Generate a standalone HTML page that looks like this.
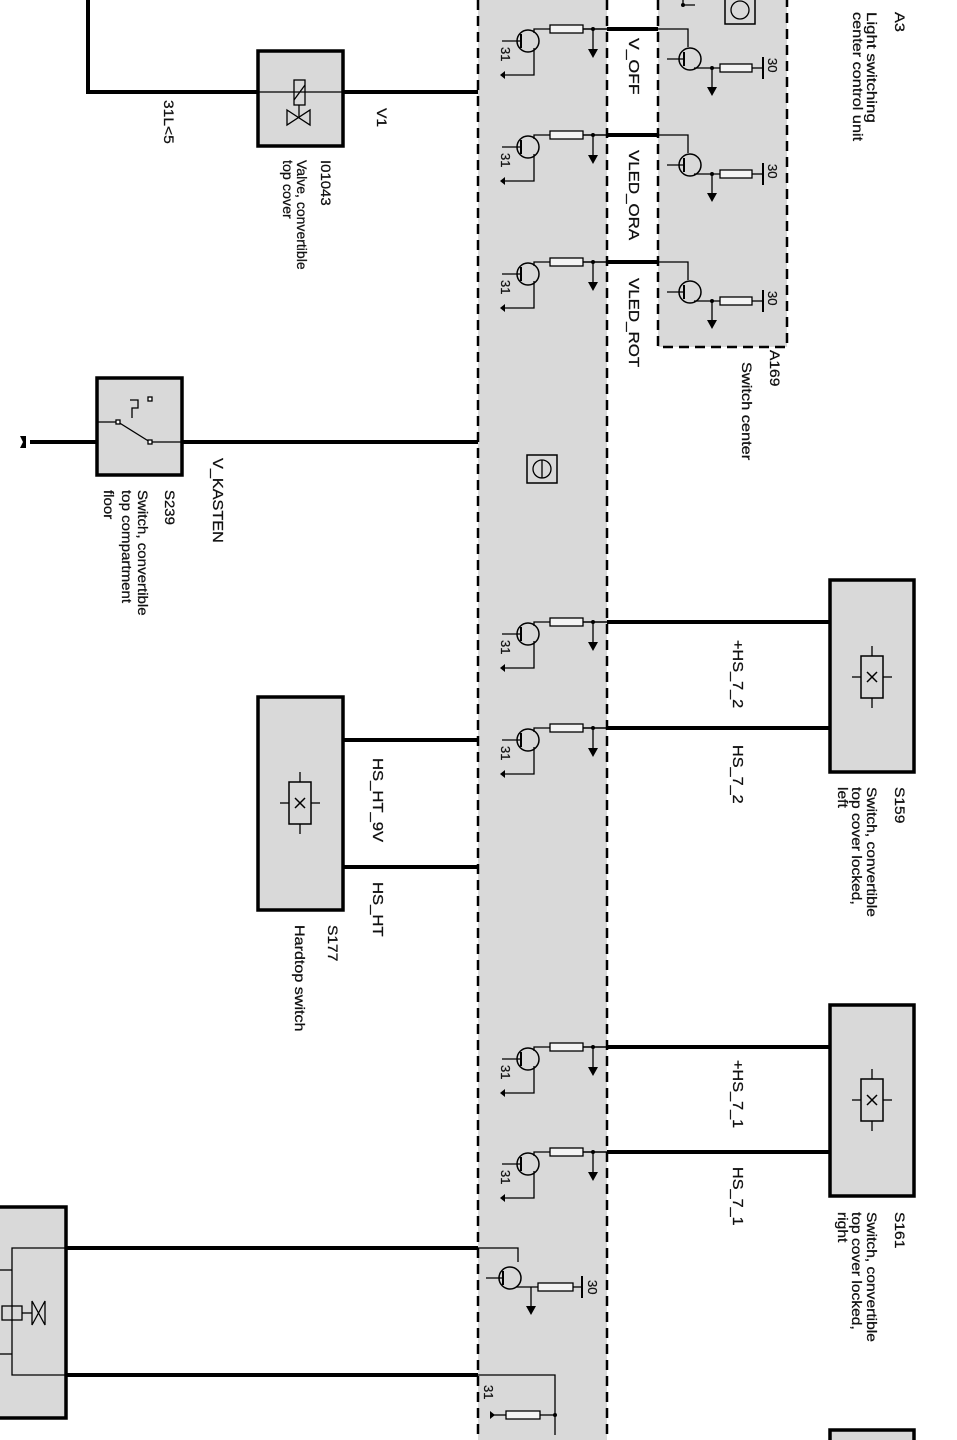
<!DOCTYPE html>
<html><head><meta charset="utf-8"><style>
html,body{margin:0;padding:0;background:#fff;}
svg{display:block;}
text{font-family:"Liberation Sans",sans-serif;font-size:13px;fill:#111;stroke:#111;stroke-width:0.25;}
</style></head><body>
<svg width="957" height="1440" viewBox="0 0 957 1440" xmlns="http://www.w3.org/2000/svg">
<defs>
<g id="st">
<line x1="583" y1="0" x2="607" y2="0" stroke="#000" stroke-width="1.5"/>
<rect x="550" y="-4" width="33" height="8" fill="#f4f4f4" stroke="#000" stroke-width="1.3"/>
<polyline points="550,0 534,0 534,4" fill="none" stroke="#000" stroke-width="1.3"/>
<circle cx="528" cy="12" r="11" fill="none" stroke="#000" stroke-width="1.5"/>
<line x1="521" y1="5" x2="521" y2="19" stroke="#000" stroke-width="2"/>
<line x1="502" y1="12" x2="521" y2="12" stroke="#000" stroke-width="1.3"/>
<polyline points="534,19 534,46 505,46" fill="none" stroke="#000" stroke-width="1.3"/>
<polygon points="505,42 505,50 500,46" fill="#000"/>
<circle cx="593" cy="0" r="2" fill="#000"/>
<line x1="593" y1="0" x2="593" y2="20" stroke="#000" stroke-width="1.3"/>
<polygon points="588,20 598,20 593,29" fill="#000"/>
</g>
<g id="sa">
<polyline points="658,0 688,0 688,18" fill="none" stroke="#000" stroke-width="1.3"/>
<circle cx="690" cy="30" r="11" fill="none" stroke="#000" stroke-width="1.5"/>
<line x1="684" y1="23" x2="684" y2="37" stroke="#000" stroke-width="2"/>
<line x1="667" y1="30" x2="684" y2="30" stroke="#000" stroke-width="1.3"/>
<polyline points="694,39 712,39 720,39" fill="none" stroke="#000" stroke-width="1.3"/>
<rect x="720" y="35" width="32" height="8" fill="#f4f4f4" stroke="#000" stroke-width="1.3"/>
<line x1="752" y1="39" x2="763" y2="39" stroke="#000" stroke-width="1.3"/>
<line x1="763" y1="28" x2="763" y2="50" stroke="#000" stroke-width="2"/>
<circle cx="712" cy="39" r="2" fill="#000"/>
<line x1="712" y1="39" x2="712" y2="58" stroke="#000" stroke-width="1.3"/>
<polygon points="707,58 717,58 712,67" fill="#000"/>
</g>
<g id="sw">
<rect x="-11" y="-21" width="22" height="42" fill="none" stroke="#000" stroke-width="1.5"/>
<line x1="-20" y1="0" x2="-11" y2="0" stroke="#000" stroke-width="1.3"/>
<line x1="11" y1="0" x2="20" y2="0" stroke="#000" stroke-width="1.3"/>
<line x1="0" y1="-31" x2="0" y2="-21" stroke="#000" stroke-width="1.3"/>
<line x1="0" y1="21" x2="0" y2="31" stroke="#000" stroke-width="1.3"/>
<line x1="-5" y1="-5" x2="5" y2="5" stroke="#000" stroke-width="1.5"/>
<line x1="5" y1="-5" x2="-5" y2="5" stroke="#000" stroke-width="1.5"/>
</g>
</defs>

<rect x="478" y="0" width="129" height="1440" fill="#d9d9d9"/>
<line x1="478" y1="0" x2="478" y2="1440" stroke="#000" stroke-width="2.5" stroke-dasharray="10,6"/>
<line x1="607" y1="0" x2="607" y2="1440" stroke="#000" stroke-width="2.5" stroke-dasharray="10,6"/>
<rect x="658" y="0" width="129" height="347" fill="#d9d9d9"/>
<polyline points="658,0 658,347 787,347 787,0" fill="none" stroke="#000" stroke-width="2.5" stroke-dasharray="10,6"/>
<polyline points="683,0 683,5 695,5" fill="none" stroke="#000" stroke-width="1.3"/>
<circle cx="683" cy="5" r="2" fill="#000"/>
<rect x="725" y="-2" width="30" height="26" fill="none" stroke="#000" stroke-width="1.5"/>
<circle cx="740" cy="10" r="9" fill="none" stroke="#000" stroke-width="1.3"/>

<g stroke="#000" stroke-width="4">
<line x1="607" y1="29" x2="658" y2="29"/>
<line x1="607" y1="135" x2="658" y2="135"/>
<line x1="607" y1="262" x2="658" y2="262"/>
<line x1="607" y1="622" x2="830" y2="622"/>
<line x1="607" y1="728" x2="830" y2="728"/>
<line x1="607" y1="1047" x2="830" y2="1047"/>
<line x1="607" y1="1152" x2="830" y2="1152"/>
<polyline points="88,0 88,92 478,92" fill="none"/>
<line x1="30" y1="442" x2="478" y2="442"/>
<line x1="343" y1="740" x2="478" y2="740"/>
<line x1="343" y1="867" x2="478" y2="867"/>
<line x1="66" y1="1248" x2="478" y2="1248"/>
<line x1="66" y1="1375" x2="478" y2="1375"/>
</g>
<polygon points="20,436 26,436 26,448 20,448 23,442" fill="#000"/>

<use href="#st" transform="translate(0,29)"/>
<use href="#st" transform="translate(0,135)"/>
<use href="#st" transform="translate(0,262)"/>
<use href="#st" transform="translate(0,622)"/>
<use href="#st" transform="translate(0,728)"/>
<use href="#st" transform="translate(0,1047)"/>
<use href="#st" transform="translate(0,1152)"/>
<use href="#sa" transform="translate(0,29)"/>
<use href="#sa" transform="translate(0,135)"/>
<use href="#sa" transform="translate(0,262)"/>

<g stroke="#000" stroke-width="1.3" fill="none">
<polyline points="478,1248 518,1248 518,1262"/>
<circle cx="510" cy="1278" r="11" stroke-width="1.5"/>
<line x1="503" y1="1271" x2="503" y2="1285" stroke-width="2"/>
<line x1="486" y1="1278" x2="503" y2="1278"/>
<polyline points="516,1287 538,1287"/>
<rect x="538" y="1283" width="35" height="8" fill="#f4f4f4"/>
<line x1="573" y1="1287" x2="582" y2="1287"/>
<line x1="582" y1="1276" x2="582" y2="1298" stroke-width="2"/>
<line x1="531" y1="1287" x2="531" y2="1306"/>
<polyline points="478,1375 555,1375 555,1435"/>
<rect x="506" y="1411" width="34" height="8" fill="#f4f4f4"/>
<line x1="490" y1="1415" x2="506" y2="1415"/>
<line x1="540" y1="1415" x2="555" y2="1415"/>
</g>
<polygon points="526,1306 536,1306 531,1315" fill="#000"/>
<polygon points="490,1411 490,1419 495,1415" fill="#000"/>
<circle cx="555" cy="1415" r="2" fill="#000"/>

<rect x="527" y="455" width="30" height="28" fill="none" stroke="#000" stroke-width="1.5"/>
<circle cx="542" cy="469" r="9" fill="none" stroke="#000" stroke-width="1.3"/>
<line x1="542" y1="460" x2="542" y2="478" stroke="#000" stroke-width="1.3"/>

<g fill="#d9d9d9" stroke="#000" stroke-width="3.5">
<rect x="258" y="51" width="85" height="95"/>
<rect x="97" y="378" width="85" height="97"/>
<rect x="258" y="697" width="85" height="213"/>
<rect x="830" y="580" width="84" height="192"/>
<rect x="830" y="1005" width="84" height="191"/>
<rect x="-5" y="1207" width="71" height="211"/>
<rect x="830" y="1430" width="84" height="20"/>
</g>
<g stroke="#000" stroke-width="1.3" fill="none">
<line x1="258" y1="92" x2="343" y2="92"/>
<rect x="294" y="80" width="11" height="25"/>
<line x1="294" y1="100" x2="305" y2="85"/>
<line x1="299" y1="105" x2="299" y2="118"/>
<polygon points="287,110 310,125 310,110 287,125"/>
</g>
<g stroke="#000" stroke-width="1.3" fill="none">
<line x1="97" y1="422" x2="118" y2="422"/>
<line x1="150" y1="442" x2="182" y2="442"/>
<line x1="118" y1="422" x2="150" y2="442"/>
<rect x="116" y="420" width="4" height="4" fill="#fff"/>
<rect x="148" y="440" width="4" height="4" fill="#fff"/>
<polyline points="130,400 138,400 138,408 132,408 132,418"/>
<rect x="148" y="397" width="4" height="4" fill="#fff"/>
</g>
<g stroke="#000" stroke-width="1.3" fill="none">
<polyline points="66,1248 12,1248 12,1375 66,1375"/>
<rect x="2" y="1306" width="20" height="14"/>
<line x1="22" y1="1313" x2="32" y2="1313"/>
<polygon points="32,1301 45,1325 45,1301 32,1325"/>
<line x1="0" y1="1270" x2="12" y2="1270"/>
<line x1="0" y1="1354" x2="12" y2="1354"/>
</g>
<use href="#sw" transform="translate(872,677)"/>
<use href="#sw" transform="translate(872,1100)"/>
<use href="#sw" transform="translate(300,803)"/>

<g>
<text transform="translate(895,12) rotate(90) scale(1.25,1.05)">A3</text>
<text transform="translate(867,12) rotate(90) scale(1.3,1.05)">Light switching</text>
<text transform="translate(853,12) rotate(90) scale(1.25,1.05)">center control unit</text>
<text transform="translate(629,38) rotate(90) scale(1.35,1.1)">V_OFF</text>
<text transform="translate(629,150) rotate(90) scale(1.3,1.1)">VLED_ORA</text>
<text transform="translate(629,278) rotate(90) scale(1.3,1.1)">VLED_ROT</text>
<text transform="translate(768,58) rotate(90)">30</text>
<text transform="translate(768,164) rotate(90)">30</text>
<text transform="translate(768,291) rotate(90)">30</text>
<text transform="translate(770,350) rotate(90) scale(1.2,1.05)">A169</text>
<text transform="translate(742,362) rotate(90) scale(1.26,1.05)">Switch center</text>
<text transform="translate(164,100) rotate(90) scale(1.2,1.05)">31L&lt;5</text>
<text transform="translate(377,108) rotate(90) scale(1.2,1.05)">V1</text>
<text transform="translate(321,160) rotate(90) scale(1.15,1.05)">I01043</text>
<text transform="translate(297,160) rotate(90) scale(1.08,1.05)">Valve, convertible</text>
<text transform="translate(283,160) rotate(90) scale(1.1,1.05)">top cover</text>
<text transform="translate(213,458) rotate(90) scale(1.25,1.1)">V_KASTEN</text>
<text transform="translate(165,490) rotate(90) scale(1.15,1.05)">S239</text>
<text transform="translate(138,490) rotate(90) scale(1.16,1.05)">Switch, convertible</text>
<text transform="translate(122,490) rotate(90) scale(1.16,1.05)">top compartment</text>
<text transform="translate(104,490) rotate(90) scale(1.16,1.05)">floor</text>
<text transform="translate(733,640) rotate(90) scale(1.25,1.1)">+HS_7_2</text>
<text transform="translate(733,745) rotate(90) scale(1.25,1.1)">HS_7_2</text>
<text transform="translate(733,1060) rotate(90) scale(1.25,1.1)">+HS_7_1</text>
<text transform="translate(733,1167) rotate(90) scale(1.25,1.1)">HS_7_1</text>
<text transform="translate(373,758) rotate(90) scale(1.28,1.1)">HS_HT_9V</text>
<text transform="translate(373,882) rotate(90) scale(1.28,1.1)">HS_HT</text>
<text transform="translate(328,925) rotate(90) scale(1.2,1.05)">S177</text>
<text transform="translate(295,925) rotate(90) scale(1.24,1.05)">Hardtop switch</text>
<text transform="translate(895,787) rotate(90) scale(1.2,1.05)">S159</text>
<text transform="translate(867,787) rotate(90) scale(1.2,1.05)">Switch, convertible</text>
<text transform="translate(852,787) rotate(90) scale(1.2,1.05)">top cover locked,</text>
<text transform="translate(838,787) rotate(90) scale(1.2,1.05)">left</text>
<text transform="translate(895,1212) rotate(90) scale(1.2,1.05)">S161</text>
<text transform="translate(867,1212) rotate(90) scale(1.2,1.05)">Switch, convertible</text>
<text transform="translate(852,1212) rotate(90) scale(1.2,1.05)">top cover locked,</text>
<text transform="translate(838,1212) rotate(90) scale(1.2,1.05)">right</text>
<text transform="translate(588,1280) rotate(90)">30</text>
<text transform="translate(484,1385) rotate(90)">31</text>
<text transform="translate(501,47) rotate(90)">31</text>
<text transform="translate(501,153) rotate(90)">31</text>
<text transform="translate(501,280) rotate(90)">31</text>
<text transform="translate(501,640) rotate(90)">31</text>
<text transform="translate(501,746) rotate(90)">31</text>
<text transform="translate(501,1065) rotate(90)">31</text>
<text transform="translate(501,1170) rotate(90)">31</text>
</g>
</svg>
</body></html>
